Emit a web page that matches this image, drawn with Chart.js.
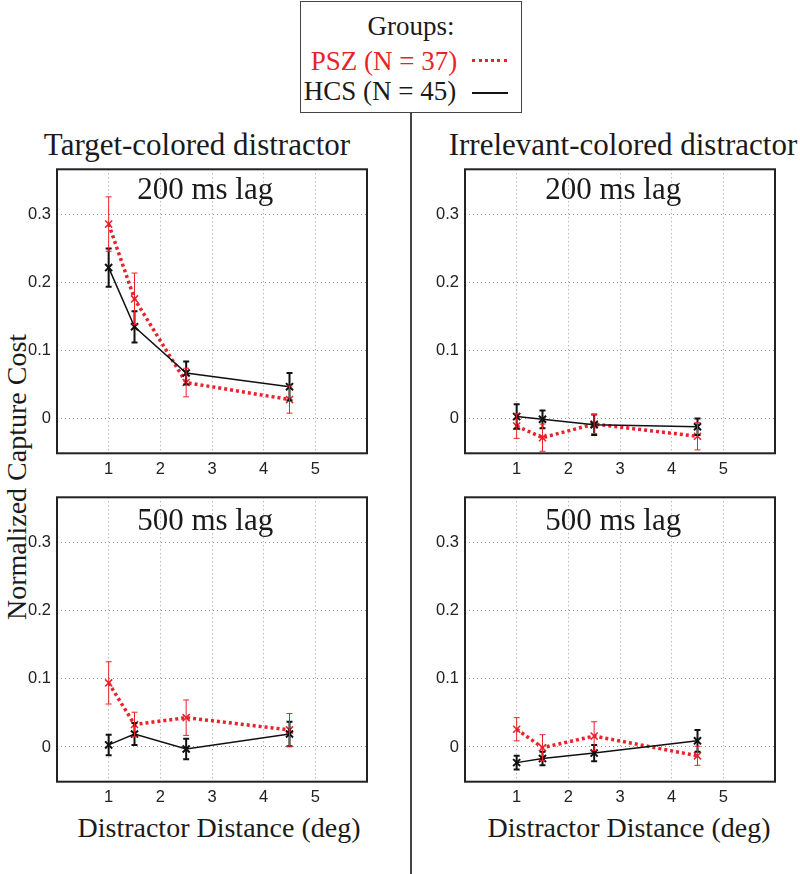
<!DOCTYPE html>
<html>
<head>
<meta charset="utf-8">
<script src="https://cdn.jsdelivr.net/npm/chart.js@4"></script>
<style>
  body { margin: 0; background: #fff; }
  #page { position: relative; width: 800px; height: 874px; overflow: hidden; font-family: "Liberation Serif", serif; color: #1a1a1a; }
  .txt { position: absolute; transform: translate(-50%, -50%); white-space: nowrap; line-height: 1; }
  canvas { position: absolute; }
</style>
</head>
<body>
<div id="page">
  <div style="position:absolute;left:300px;top:1px;width:220px;height:110px;border:1.5px solid #444;"></div>
  <div class="txt" style="left:411px;top:26px;font-size:27px;">Groups:</div>
  <div class="txt" style="left:384px;top:61px;font-size:27px;color:#e8232b;">PSZ (N = 37)</div>
  <div style="position:absolute;left:472px;top:59px;width:35px;border-top:3px dotted #e8232b;"></div>
  <div class="txt" style="left:380px;top:91px;font-size:27px;">HCS (N = 45)</div>
  <div style="position:absolute;left:472px;top:92px;width:36px;border-top:2px solid #111;"></div>
  <div style="position:absolute;left:410px;top:112px;width:1.5px;height:762px;background:#444;"></div>

  <div class="txt" style="left:197px;top:144px;font-size:31px;">Target-colored distractor</div>
  <div class="txt" style="left:623px;top:144px;font-size:31px;">Irrelevant-colored distractor</div>
  <div class="txt" style="left:17px;top:477px;font-size:28px;transform:translate(-50%,-50%) rotate(-90deg);">Normalized Capture Cost</div>
  <div class="txt" style="left:219px;top:828px;font-size:28px;">Distractor Distance (deg)</div>
  <div class="txt" style="left:629px;top:828px;font-size:28px;">Distractor Distance (deg)</div>

  <canvas id="c1" width="380" height="330" style="left:0px;top:150px;"></canvas>
  <canvas id="c2" width="370" height="330" style="left:420px;top:150px;"></canvas>
  <canvas id="c3" width="380" height="330" style="left:0px;top:480px;"></canvas>
  <canvas id="c4" width="370" height="330" style="left:420px;top:480px;"></canvas>
</div>
<script>
const distances = [1, 1.5, 2.5, 4.5];
const xTicks = [1, 2, 3, 4, 5];
const yTicks = [0, 0.1, 0.2, 0.3];

// target-colored distractor, 200 ms
const pszTarget200 = [0.286, 0.176, 0.053, 0.028];
const pszTarget200Err = [0.040, 0.038, 0.021, 0.020];
const hcsTarget200 = [0.222, 0.135, 0.067, 0.047];
const hcsTarget200Err = [0.028, 0.023, 0.017, 0.020];

// irrelevant-colored distractor, 200 ms
const pszIrrel200 = [-0.011, -0.028, -0.008, -0.026];
const pszIrrel200Err = [0.018, 0.020, 0.014, 0.020];
const hcsIrrel200 = [0.003, -0.001, -0.009, -0.012];
const hcsIrrel200Err = [0.018, 0.013, 0.015, 0.012];

// target-colored distractor, 500 ms
const pszTarget500 = [0.094, 0.033, 0.043, 0.025];
const pszTarget500Err = [0.031, 0.018, 0.026, 0.024];
const hcsTarget500 = [0.003, 0.019, -0.003, 0.019];
const hcsTarget500Err = [0.015, 0.016, 0.015, 0.018];

// irrelevant-colored distractor, 500 ms
const pszIrrel500 = [0.026, -0.001, 0.016, -0.013];
const pszIrrel500Err = [0.017, 0.019, 0.021, 0.014];
const hcsIrrel500 = [-0.023, -0.017, -0.009, 0.009];
const hcsIrrel500Err = [0.010, 0.010, 0.012, 0.016];

const RED = '#e8232b';

const panelPlugin = {
  id: 'panel',
  afterDatasetsDraw(chart, args, opts) {
    const ctx = chart.ctx;
    const a = chart.chartArea;
    const y = chart.scales.y;
    ctx.save();
    // error bars
    chart.data.datasets.forEach((ds, i) => {
      const meta = chart.getDatasetMeta(i);
      ctx.strokeStyle = ds.borderColor;
      ctx.lineWidth = ds.errWidth;
      ctx.setLineDash([]);
      meta.data.forEach((pt, j) => {
        const v = ds.data[j].y, e = ds.errs[j];
        const t = y.getPixelForValue(v + e), b = y.getPixelForValue(v - e);
        ctx.beginPath();
        ctx.moveTo(pt.x, t); ctx.lineTo(pt.x, b);
        ctx.moveTo(pt.x - 3, t); ctx.lineTo(pt.x + 3, t);
        ctx.moveTo(pt.x - 3, b); ctx.lineTo(pt.x + 3, b);
        ctx.stroke();
      });
    });
    // box
    ctx.strokeStyle = '#222';
    ctx.lineWidth = 2;
    ctx.strokeRect(a.left, a.top, a.right - a.left, a.bottom - a.top);
    // title in the axes
    ctx.fillStyle = '#1a1a1a';
    ctx.font = '31px "Liberation Serif"';
    ctx.textAlign = 'center';
    ctx.textBaseline = 'alphabetic';
    ctx.fillText(opts.title, a.left + 0.478 * (a.right - a.left), a.top + opts.dy);
    ctx.restore();
  }
};

function makePanel(id, title, dy, psz, pszErr, hcs, hcsErr, yw, pr, pt, xh) {
  const pts = (vals) => distances.map((d, i) => ({ x: d, y: vals[i] }));
  new Chart(document.getElementById(id), {
    type: 'line',
    data: {
      datasets: [
        {
          label: 'HCS (N = 45)', data: pts(hcs), errs: hcsErr, errWidth: 2,
          borderColor: '#111', backgroundColor: '#111', borderWidth: 1.5,
          pointStyle: 'crossRot', pointRadius: 5, pointBorderWidth: 2, tension: 0
        },
        {
          label: 'PSZ (N = 37)', data: pts(psz), errs: pszErr, errWidth: 1,
          borderColor: RED, backgroundColor: RED, borderWidth: 3.5, borderDash: [3, 3],
          pointStyle: 'crossRot', pointRadius: 5, pointBorderWidth: 1.5, tension: 0
        }
      ]
    },
    options: {
      responsive: false,
      animation: false,
      events: [],
      layout: { padding: { left: 0, right: pr, top: pt, bottom: 0 } },
      plugins: {
        legend: { display: false },
        tooltip: { enabled: false },
        panel: { title: title, dy: dy }
      },
      scales: {
        x: {
          type: 'linear', min: 0, max: 6,
          afterBuildTicks: (s) => { s.ticks = xTicks.map((v) => ({ value: v })); },
          afterFit: (s) => { s.height = xh; },
          grid: { color: '#999', lineWidth: 1, drawTicks: false },
          border: { display: false, dash: [1, 3] },
          ticks: { padding: 6, color: '#222', font: { family: 'Liberation Sans', size: 16.5 }, callback: (v) => String(v) }
        },
        y: {
          min: -0.051, max: 0.3665,
          afterBuildTicks: (s) => { s.ticks = yTicks.map((v) => ({ value: v })); },
          afterFit: (s) => { s.width = yw; },
          grid: { color: '#999', lineWidth: 1, drawTicks: false },
          border: { display: false, dash: [1, 3] },
          ticks: { padding: 6, color: '#222', font: { family: 'Liberation Sans', size: 16.5 }, callback: (v) => String(v) }
        }
      }
    },
    plugins: [panelPlugin]
  });
}

makePanel('c1', '200 ms lag', 30, pszTarget200, pszTarget200Err, hcsTarget200, hcsTarget200Err, 57, 13, 19.3, 26.7);
makePanel('c2', '200 ms lag', 30, pszIrrel200, pszIrrel200Err, hcsIrrel200, hcsIrrel200Err, 45, 15, 19.3, 26.7);
makePanel('c3', '500 ms lag', 33, pszTarget500, pszTarget500Err, hcsTarget500, hcsTarget500Err, 57, 13, 17.3, 28.3);
makePanel('c4', '500 ms lag', 33, pszIrrel500, pszIrrel500Err, hcsIrrel500, hcsIrrel500Err, 45, 15, 17.3, 28.3);
</script>
</body>
</html>
